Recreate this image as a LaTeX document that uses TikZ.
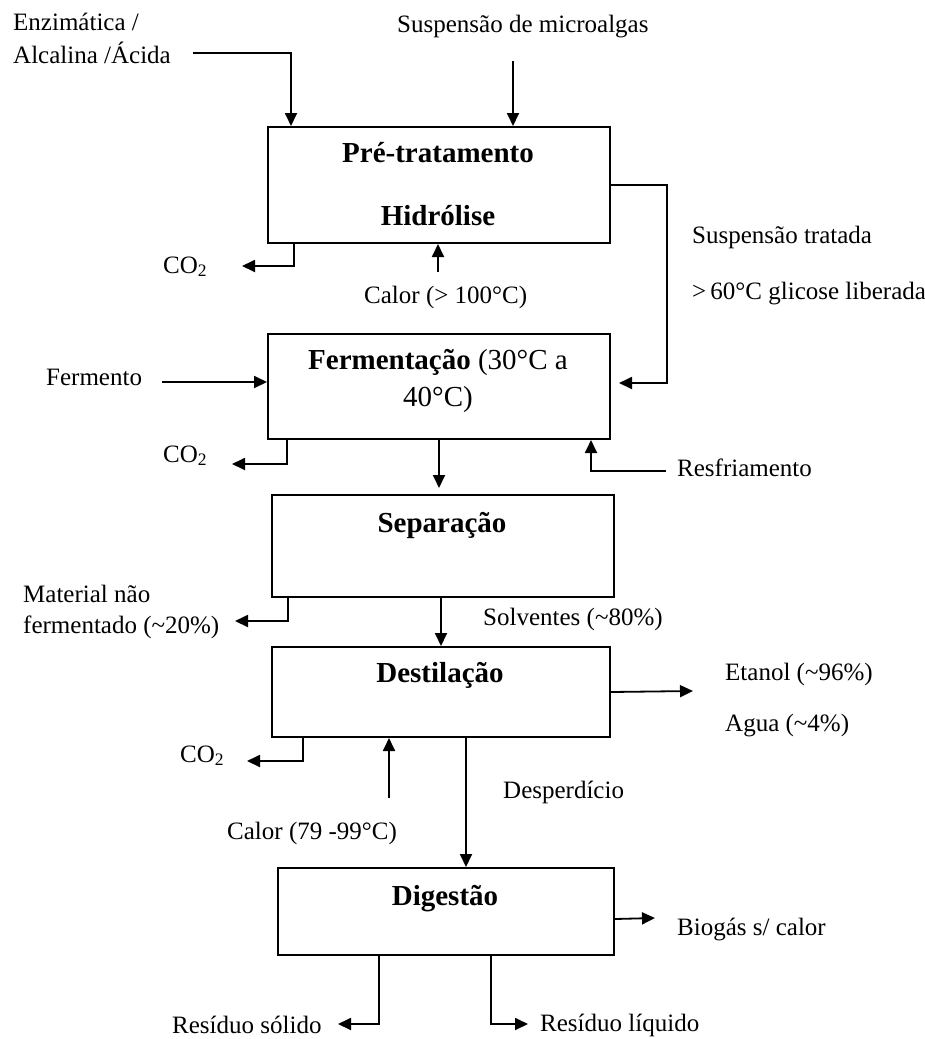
\documentclass[tikz,border=0pt]{standalone}
\usepackage{fontspec}
\setmainfont{Liberation Serif}
\usetikzlibrary{arrows.meta}
\begin{document}
\begin{tikzpicture}[x=1pt,y=-1pt,
  box/.style={draw, line width=2pt, inner sep=0pt, anchor=north west},
  lbl/.style={anchor=base west, inner sep=0pt, font=\fontsize{25}{30}\selectfont},
  ttl/.style={anchor=base, inner sep=0pt, font=\fontsize{29}{34}\selectfont\bfseries},
  arr/.style={line width=1.8pt, -{Triangle[length=13pt,width=12pt]}}]
\useasboundingbox (0,0) rectangle (925,1039);

% process boxes
\node[box, minimum width=342pt, minimum height=116pt] (b1) at (267,126) {};
\node[box, minimum width=342pt, minimum height=105pt] (b2) at (267,333) {};
\node[box, minimum width=342pt, minimum height=102pt] (b3) at (271,494) {};
\node[box, minimum width=338pt, minimum height=90pt]  (b4) at (271,646) {};
\node[box, minimum width=336pt, minimum height=87pt]  (b5) at (277,867) {};

% box titles
\node[ttl] (t1a) at (438,162) {Pré-tratamento};
\node[ttl] (t1b) at (438,225) {Hidrólise};
\node[ttl] (t2a) at (438,369) {Fermentação {\mdseries(30°C a}};
\node[ttl] (t2b) at (438,406) {\mdseries 40°C)};
\node[ttl] (t3)  at (442,532) {Separação};
\node[ttl] (t4)  at (440,682) {Destilação};
\node[ttl] (t5)  at (445,905) {Digestão};

% stream labels
\node[lbl] (enz1) at (13,30) {Enzimática /};
\node[lbl] (enz2) at (13,63) {Alcalina /Ácida};
\node[lbl] (susp) at (397,32) {Suspensão de microalgas};
\node[lbl] (co2a) at (163,273) {CO\textsubscript{2}};
\node[lbl] (cal1) at (364,303) {Calor (> 100°C)};
\node[lbl] (st1)  at (692,243) {Suspensão tratada};
\node[lbl] (st2)  at (692,299) {>\,60°C glicose liberada};
\node[lbl] (ferm) at (46,385) {Fermento};
\node[lbl] (co2b) at (163,462) {CO\textsubscript{2}};
\node[lbl] (resf) at (677,476) {Resfriamento};
\node[lbl] (mat1) at (23,602) {Material não};
\node[lbl] (mat2) at (23,633) {fermentado (\textasciitilde 20\%)};
\node[lbl] (solv) at (483,625) {Solventes (\textasciitilde 80\%)};
\node[lbl] (co2c) at (180,762) {CO\textsubscript{2}};
\node[lbl] (cal2) at (227,839) {Calor (79 -99°C)};
\node[lbl] (eta)  at (725,680) {Etanol (\textasciitilde 96\%)};
\node[lbl] (agua) at (725,731) {Agua (\textasciitilde 4\%)};
\node[lbl] (desp) at (503,798) {Desperdício};
\node[lbl] (bio)  at (677,935) {Biogás s/ calor};
\node[lbl] (rs)   at (172,1033) {Resíduo sólido};
\node[lbl] (rl)   at (540,1031) {Resíduo líquido};

% free ends of the streams
\coordinate (enzS)  at (193,53);
\coordinate (suspS) at (513,61);
\coordinate (co2aT) at (242,266);
\coordinate (cal1S) at (438,272);
\coordinate (fermS) at (162,382);
\coordinate (co2bT) at (232,464);
\coordinate (resfS) at (666,471);
\coordinate (matT)  at (235,621);
\coordinate (co2cT) at (247,761);
\coordinate (cal2S) at (389,798);
\coordinate (despS) at ([xshift=25pt]b4.south);
\coordinate (etaT)  at (693,691);
\coordinate (bioT)  at (655,918);
\coordinate (rsT)   at (338,1024);
\coordinate (rlT)   at (528,1024);

% pre-treatment
\draw[arr] (enzS) -| ([xshift=24pt]b1.north west);
\draw[arr] (suspS) -- (suspS |- b1.north);
\draw[arr] ([xshift=27pt]b1.south west) |- (co2aT);
\draw[arr] (cal1S) -- (cal1S |- b1.south);
\draw[arr] (b1.east) -- ++(56,0) |- ([xshift=8pt,yshift=3.5pt]b2.east);

% fermentation
\draw[arr] (fermS) -- (fermS -| b2.west);
\draw[arr] ([xshift=20pt]b2.south west) |- (co2bT);
\draw[arr] (resfS) -| ([xshift=-20pt]b2.south east);
\draw[arr, shorten >=6pt] (b2.south) -- (b2.south |- b3.north);

% separation
\draw[arr] ([xshift=17pt]b3.south west) |- (matT);
\draw[arr] (b3.south -| b4.north) -- (b4.north);

% distillation
\draw[arr] ([xshift=32pt]b4.south west) |- (co2cT);
\draw[arr] (cal2S) -- (cal2S |- b4.south);
\draw[arr] (b4.east) -- (etaT);
\draw[arr] (despS) -- (despS |- b5.north);

% digestion
\draw[arr] ([yshift=-7.5pt]b5.east) -- (bioT);
\draw[arr] ([xshift=102pt]b5.south west) |- (rsT);
\draw[arr] ([xshift=214pt]b5.south west) |- (rlT);
\end{tikzpicture}
\end{document}
